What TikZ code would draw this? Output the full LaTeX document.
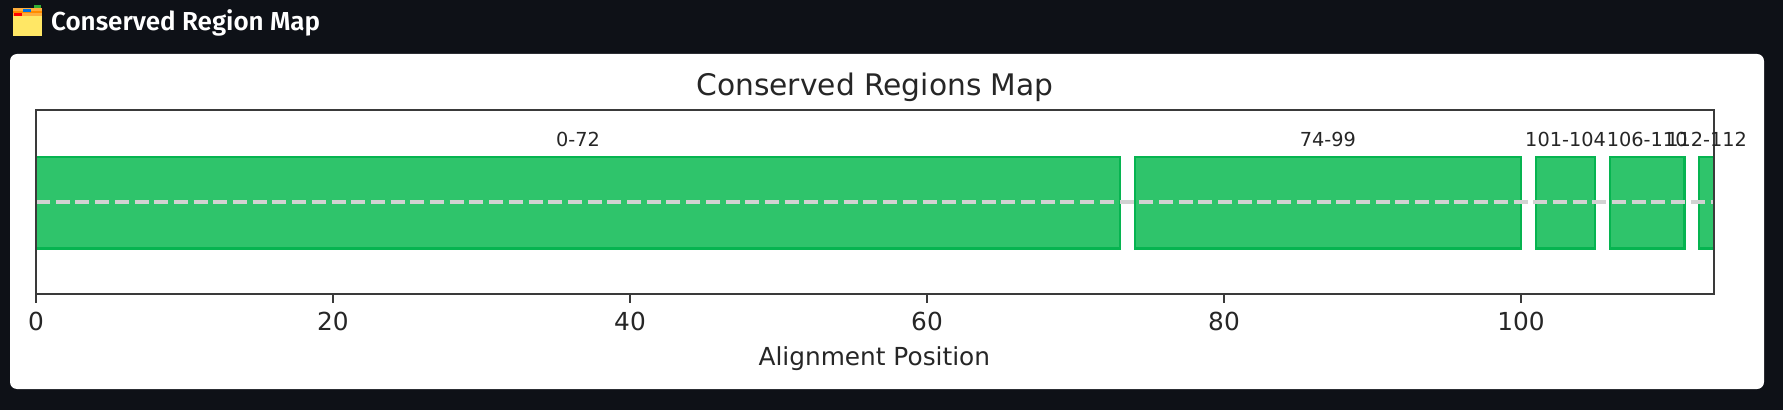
\documentclass[tikz,border=0pt]{standalone}
\usepackage{fontspec}
\setmainfont{DejaVu Sans}
\newfontfamily\headfont[BoldFont=Fira Sans SemiBold]{Fira Sans}
\usetikzlibrary{positioning}
\definecolor{pagebg}{HTML}{0E1117}
\definecolor{barfill}{HTML}{2FC46B}
\definecolor{baredge}{HTML}{06B450}
\definecolor{spine}{HTML}{3A3A3A}
\definecolor{midline}{HTML}{D2D2D2}
\definecolor{inktext}{HTML}{262626}
\definecolor{iconyellow}{HTML}{FFE765}
\definecolor{iconorange}{HTML}{FFAE3C}
\tikzset{
    regionbar/.style={fill=barfill, draw=baredge, line width=2.4pt},
    regionlabel/.style={text=inktext, font=\fontsize{19.3}{19.3}\selectfont, inner sep=0pt},
    ticklabel/.style={text=inktext, font=\fontsize{24.8}{24.8}\selectfont, inner sep=0pt},
}
\begin{document}
\begin{tikzpicture}[x=1pt, y=1pt]
    \useasboundingbox (0,0) rectangle (1783,410);
    % BACKGROUND: page and white card
    \fill[pagebg] (0,0) rectangle (1783,410);
    \fill[white, rounded corners=7pt] (10,21) rectangle (1764,356);
    % HEADER: icon and heading
    \fill[iconyellow] (13,374) rectangle (42,394);
    \fill[iconorange] (13,394) rectangle (42,402);
    \fill[orange!90!yellow] (13,397) rectangle (42,398.5);
    \fill[green!60!black!80!white] (34,402) rectangle (41,405);
    \fill[blue!50!cyan!90!black] (23,398) rectangle (31,401);
    \fill[red] (14,394) rectangle (22,397);
    \node[text=white, anchor=west, inner sep=0pt, font=\headfont\bfseries\fontsize{26}{26}\selectfont] (heading) at (51,387) {Conserved Region Map};
    % PLOT: everything in alignment units
    \begin{scope}[shift={(36,116)}, x=14.85pt]
        % Bars
        \draw[regionbar] (0,45.5) rectangle (73,137);
        \draw[regionbar] (74,45.5) rectangle (100,137);
        \draw[regionbar] (101,45.5) rectangle (105,137);
        \draw[regionbar] (106,45.5) rectangle (111,137);
        \draw[regionbar] (112,45.5) rectangle (113,137);
        % Consensus line
        \coordinate (lineL) at (0,91.7);
        \coordinate (lineR) at (113,91.7);
        \draw[midline, line width=3.6pt, dash pattern=on 14pt off 5.7pt] (lineL) -- (lineR);
        % Spines
        \draw[spine, line width=1.7pt] (0,0) rectangle (113,184);
        % Bar labels
        \node[regionlabel] (lab0) at (36.5,155) {0-72};
        \node[regionlabel] (lab74) at (87,155) {74-99};
        \node[regionlabel] (lab101) at (103,155) {101-104};
        \node[regionlabel] (lab106) at (108.5,155) {106-110};
        \node[regionlabel] (lab112) at (112.5,155) {112-112};
        % Axis ticks and their labels
        \foreach \pos in {0,20,40,60,80,100} {
            \draw[spine, line width=1.5pt] (\pos,0) -- (\pos,-9);
            \node[ticklabel] (tick\pos) at (\pos,-27) {\pos};
        }
        % Titles
        \node[text=inktext, inner sep=0pt, font=\fontsize{29.7}{29.7}\selectfont] (plottitle) at (56.5,207) {Conserved Regions Map};
        \node[ticklabel] (xlabel) at (56.45,-65) {Alignment Position};
    \end{scope}
\end{tikzpicture}
\end{document}
